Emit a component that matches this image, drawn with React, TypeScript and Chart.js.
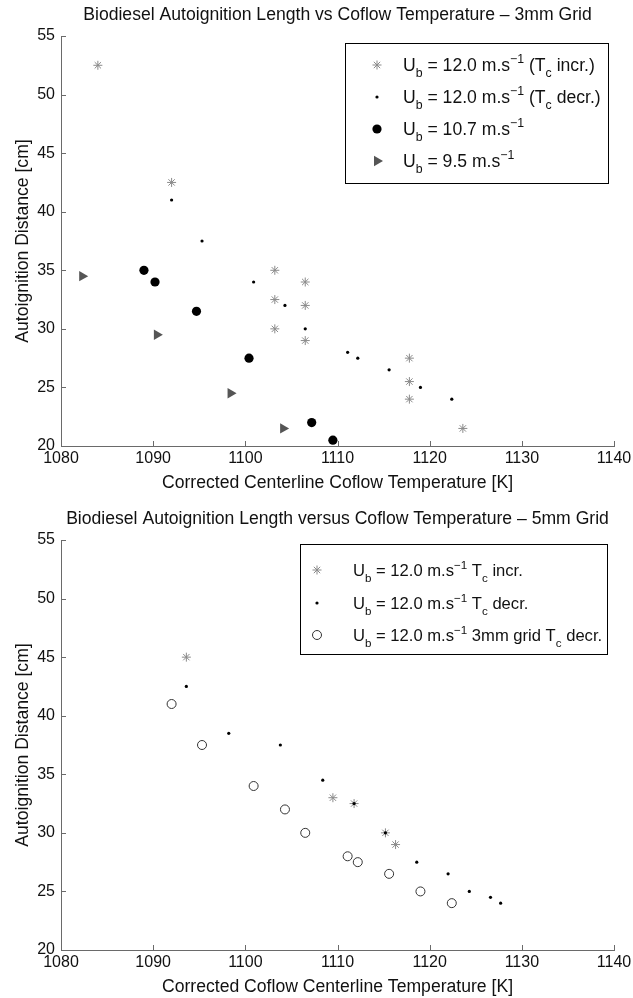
import { useEffect, useRef } from 'react';
import { Chart, registerables } from 'chart.js';

Chart.register(...registerables);

// ---------- data ----------
const xTickRange = [1080, 1140];
const yTickRange = [20, 55];

// Top chart (3mm grid)
const incr3_T = [1084, 1092, 1103.2, 1103.2, 1103.2, 1106.5, 1106.5, 1106.5, 1117.8, 1117.8, 1117.8, 1123.6];
const incr3_D = [52.5, 42.5, 35, 32.5, 30, 34, 32, 29, 27.5, 25.5, 24, 21.5];
const decr3_T = [1092, 1095.3, 1100.9, 1104.3, 1106.5, 1111.1, 1112.2, 1115.6, 1119.0, 1122.4];
const decr3_D = [41, 37.5, 34, 32, 30, 28, 27.5, 26.5, 25, 24];
const u107_T = [1089, 1090.2, 1094.7, 1100.4, 1107.2, 1109.5];
const u107_D = [35, 34, 31.5, 27.5, 22, 20.5];
const u95_T = [1082.3, 1090.4, 1098.4, 1104.1];
const u95_D = [34.5, 29.5, 24.5, 21.5];

// Bottom chart (5mm grid)
const incr5_T = [1093.6, 1109.5, 1111.8, 1115.2, 1116.3];
const incr5_D = [45, 33, 32.5, 30, 29];
const decr5_T = [1093.6, 1098.2, 1103.8, 1108.4, 1111.8, 1115.2, 1118.6, 1122.0, 1124.3, 1126.6, 1127.7];
const decr5_D = [42.5, 38.5, 37.5, 34.5, 32.5, 30, 27.5, 26.5, 25, 24.5, 24];

const topTitle = 'Biodiesel Autoignition Length vs Coflow Temperature \u2013 3mm Grid';
const bottomTitle = 'Biodiesel Autoignition Length versus Coflow Temperature \u2013 5mm Grid';
const topXTitle = 'Corrected Centerline Coflow Temperature [K]';
const bottomXTitle = 'Corrected Coflow Centerline Temperature [K]';
const yTitle = 'Autoignition Distance [cm]';

type Run = { t: string; s?: 'sub' | 'sup' };
const topLegendLabels: Run[][] = [
  [{ t: 'U' }, { t: 'b', s: 'sub' }, { t: ' = 12.0 m.s' }, { t: '\u22121', s: 'sup' }, { t: ' (T' }, { t: 'c', s: 'sub' }, { t: ' incr.)' }],
  [{ t: 'U' }, { t: 'b', s: 'sub' }, { t: ' = 12.0 m.s' }, { t: '\u22121', s: 'sup' }, { t: ' (T' }, { t: 'c', s: 'sub' }, { t: ' decr.)' }],
  [{ t: 'U' }, { t: 'b', s: 'sub' }, { t: ' = 10.7 m.s' }, { t: '\u22121', s: 'sup' }],
  [{ t: 'U' }, { t: 'b', s: 'sub' }, { t: ' = 9.5 m.s' }, { t: '\u22121', s: 'sup' }],
];
const bottomLegendLabels: Run[][] = [
  [{ t: 'U' }, { t: 'b', s: 'sub' }, { t: ' = 12.0 m.s' }, { t: '\u22121', s: 'sup' }, { t: ' T' }, { t: 'c', s: 'sub' }, { t: ' incr.' }],
  [{ t: 'U' }, { t: 'b', s: 'sub' }, { t: ' = 12.0 m.s' }, { t: '\u22121', s: 'sup' }, { t: ' T' }, { t: 'c', s: 'sub' }, { t: ' decr.' }],
  [{ t: 'U' }, { t: 'b', s: 'sub' }, { t: ' = 12.0 m.s' }, { t: '\u22121', s: 'sup' }, { t: ' 3mm grid T' }, { t: 'c', s: 'sub' }, { t: ' decr.' }],
];

// ---------- styles ----------
const FONT = '"Liberation Sans", Arial, Helvetica, sans-serif';
const TXT = '#111';
const AXIS = '#6a6a6a';
const W = 633;
const PLOT_LEFT = 61;
const PLOT_RIGHT = 614;
const PLOT_TOP = 36;
const PLOT_BOTTOM = 446;
const TOP_H = 504;
const BOT_H = 494;

type Marker = { style: string; r: number; fill: string; stroke: string; bw: number; rot?: number };
const M_STAR: Marker = { style: 'star', r: 4.5, fill: 'rgba(0,0,0,0)', stroke: '#8a8a8a', bw: 1 };
const M_DOT: Marker = { style: 'circle', r: 1.6, fill: '#000', stroke: '#000', bw: 0 };
const M_BIG: Marker = { style: 'circle', r: 4.6, fill: '#000', stroke: '#000', bw: 0 };
const M_TRI: Marker = { style: 'triangle', r: 6, fill: '#555', stroke: '#555', bw: 0, rot: 90 };
const M_OPEN: Marker = { style: 'circle', r: 4.5, fill: 'rgba(0,0,0,0)', stroke: '#333', bw: 1 };

function pts(T: number[], D: number[]) {
  return T.map((x, i) => ({ x, y: D[i] }));
}

function ds(label: string, T: number[], D: number[], m: Marker, order: number) {
  return {
    label,
    data: pts(T, D),
    pointStyle: m.style,
    pointRadius: m.r,
    pointBackgroundColor: m.fill,
    pointBorderColor: m.stroke,
    pointBorderWidth: m.bw,
    pointRotation: m.rot || 0,
    showLine: false,
    order,
  };
}

function drawMarker(ctx: CanvasRenderingContext2D, m: Marker, x: number, y: number) {
  ctx.save();
  ctx.fillStyle = m.fill;
  ctx.strokeStyle = m.stroke;
  ctx.lineWidth = m.bw;
  ctx.beginPath();
  if (m.style === 'star') {
    for (let a = 0; a < 4; a++) {
      const ang = (a * Math.PI) / 4;
      ctx.moveTo(x - Math.cos(ang) * m.r, y - Math.sin(ang) * m.r);
      ctx.lineTo(x + Math.cos(ang) * m.r, y + Math.sin(ang) * m.r);
    }
    ctx.stroke();
  } else if (m.style === 'triangle') {
    let rad = ((m.rot || 0) * Math.PI) / 180;
    ctx.moveTo(x + Math.sin(rad) * m.r, y - Math.cos(rad) * m.r);
    rad += (2 * Math.PI) / 3;
    ctx.lineTo(x + Math.sin(rad) * m.r, y - Math.cos(rad) * m.r);
    rad += (2 * Math.PI) / 3;
    ctx.lineTo(x + Math.sin(rad) * m.r, y - Math.cos(rad) * m.r);
    ctx.closePath();
    ctx.fill();
    if (m.bw > 0) ctx.stroke();
  } else {
    ctx.arc(x, y, m.r, 0, Math.PI * 2);
    ctx.fill();
    if (m.bw > 0) ctx.stroke();
  }
  ctx.restore();
}

function drawRuns(ctx: CanvasRenderingContext2D, runs: Run[], x: number, baseline: number, size: number) {
  let cx = x;
  for (const r of runs) {
    const fs = r.s ? size * 0.7 : size;
    ctx.font = `${fs}px ${FONT}`;
    const dy = r.s === 'sub' ? size * 0.34 : r.s === 'sup' ? -size * 0.45 : 0;
    ctx.fillText(r.t, cx, baseline + dy);
    cx += ctx.measureText(r.t).width;
  }
}

type Decor = {
  title: string;
  legend: {
    box: [number, number, number, number];
    markerX: number;
    textX: number;
    fontSize: number;
    rowsY: number[];
    markers: Marker[];
    labels: Run[][];
  };
};

function decorPlugin(d: Decor) {
  return {
    id: 'decor',
    afterDraw(chart: any) {
      const ctx: CanvasRenderingContext2D = chart.ctx;
      const xs = chart.scales.x;
      const ys = chart.scales.y;
      const { left, right, bottom } = chart.chartArea;
      ctx.save();
      // inward tick marks
      ctx.strokeStyle = AXIS;
      ctx.lineWidth = 1;
      ctx.beginPath();
      xs.ticks.forEach((t: any) => {
        const px = Math.round(xs.getPixelForValue(t.value)) + 0.5;
        ctx.moveTo(px, bottom);
        ctx.lineTo(px, bottom - 5);
      });
      ys.ticks.forEach((t: any) => {
        const py = Math.round(ys.getPixelForValue(t.value)) + 0.5;
        ctx.moveTo(left, py);
        ctx.lineTo(left + 5, py);
      });
      ctx.stroke();
      // title
      ctx.fillStyle = TXT;
      ctx.font = `17.6px ${FONT}`;
      ctx.textAlign = 'center';
      ctx.textBaseline = 'middle';
      ctx.fillText(d.title, (left + right) / 2, 15);
      // legend
      const L = d.legend;
      const [bx, by, bw, bh] = L.box;
      ctx.fillStyle = '#fff';
      ctx.fillRect(bx, by, bw, bh);
      ctx.strokeStyle = '#000';
      ctx.lineWidth = 1;
      ctx.strokeRect(bx + 0.5, by + 0.5, bw, bh);
      ctx.textAlign = 'left';
      ctx.textBaseline = 'alphabetic';
      L.labels.forEach((runs, i) => {
        const y = L.rowsY[i];
        drawMarker(ctx, L.markers[i], L.markerX, y);
        ctx.fillStyle = TXT;
        drawRuns(ctx, runs, L.textX, y + 0.36 * L.fontSize, L.fontSize);
      });
      ctx.restore();
    },
  };
}

function makeChart(canvas: HTMLCanvasElement, H: number, datasets: any[], xTitle: string, decor: Decor) {
  return new Chart(canvas, {
    type: 'scatter',
    data: { datasets },
    options: {
      responsive: false,
      animation: false,
      devicePixelRatio: 1,
      events: [],
      layout: { padding: { left: 0, right: W - PLOT_RIGHT, top: PLOT_TOP, bottom: 0 }, autoPadding: false },
      plugins: { legend: { display: false }, tooltip: { enabled: false }, title: { display: false } },
      scales: {
        x: {
          type: 'linear',
          min: xTickRange[0],
          max: xTickRange[1],
          grid: { display: false, drawTicks: false },
          border: { display: true, color: AXIS, width: 1 },
          ticks: {
            stepSize: 10,
            padding: 3,
            color: TXT,
            font: { family: FONT, size: 16 },
            maxRotation: 0,
            autoSkip: false,
            callback: (v: any) => String(v),
          },
          title: {
            display: true,
            text: xTitle,
            color: TXT,
            font: { family: FONT, size: 17.6 },
            padding: { top: 0, bottom: H - (PLOT_BOTTOM + 37) - 10.56 },
          },
          afterFit: (s: any) => {
            s.height = H - PLOT_BOTTOM;
            s.paddingLeft = 0;
            s.paddingRight = 0;
          },
        },
        y: {
          type: 'linear',
          min: yTickRange[0],
          max: yTickRange[1],
          grid: { display: false, drawTicks: false },
          border: { display: true, color: AXIS, width: 1 },
          ticks: { stepSize: 5, padding: 6, color: TXT, font: { family: FONT, size: 16 }, callback: (v: any) => String(v) },
          title: {
            display: true,
            text: yTitle,
            color: TXT,
            font: { family: FONT, size: 17.6 },
            padding: { top: 13, bottom: 0 },
          },
          afterFit: (s: any) => {
            s.width = PLOT_LEFT;
            s.paddingTop = 0;
            s.paddingBottom = 0;
          },
        },
      },
    },
    plugins: [decorPlugin(decor)],
  } as any);
}

export default function App() {
  const topRef = useRef<HTMLCanvasElement>(null);
  const botRef = useRef<HTMLCanvasElement>(null);

  useEffect(() => {
    const c1 = makeChart(
      topRef.current!,
      TOP_H,
      [
        ds('Ub = 12.0 (Tc incr.)', incr3_T, incr3_D, M_STAR, 2),
        ds('Ub = 12.0 (Tc decr.)', decr3_T, decr3_D, M_DOT, 0),
        ds('Ub = 10.7', u107_T, u107_D, M_BIG, 1),
        ds('Ub = 9.5', u95_T, u95_D, M_TRI, 3),
      ],
      topXTitle,
      {
        title: topTitle,
        legend: {
          box: [345, 43, 263, 140],
          markerX: 377,
          textX: 403,
          fontSize: 17.6,
          rowsY: [65, 97, 129, 161],
          markers: [M_STAR, M_DOT, M_BIG, M_TRI],
          labels: topLegendLabels,
        },
      }
    );
    const c2 = makeChart(
      botRef.current!,
      BOT_H,
      [
        ds('Ub = 12.0 Tc incr.', incr5_T, incr5_D, M_STAR, 2),
        ds('Ub = 12.0 Tc decr.', decr5_T, decr5_D, M_DOT, 0),
        ds('Ub = 12.0 3mm grid Tc decr.', decr3_T, decr3_D, M_OPEN, 1),
      ],
      bottomXTitle,
      {
        title: bottomTitle,
        legend: {
          box: [300, 40, 307, 110],
          markerX: 317,
          textX: 353,
          fontSize: 16.6,
          rowsY: [66, 99, 131],
          markers: [M_STAR, M_DOT, M_OPEN],
          labels: bottomLegendLabels,
        },
      }
    );
    return () => {
      c1.destroy();
      c2.destroy();
    };
  }, []);

  return (
    <div style={{ position: 'absolute', left: 0, top: 0, width: W, height: TOP_H + BOT_H, background: '#fff' }}>
      <canvas ref={topRef} width={W} height={TOP_H} style={{ position: 'absolute', left: 0, top: 0, width: W, height: TOP_H }} />
      <canvas ref={botRef} width={W} height={BOT_H} style={{ position: 'absolute', left: 0, top: TOP_H, width: W, height: BOT_H }} />
    </div>
  );
}
